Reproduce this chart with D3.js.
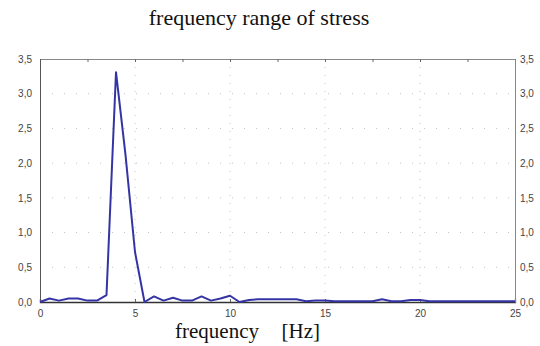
<!DOCTYPE html>
<html>
<head>
<meta charset="utf-8">
<script src="https://cdn.jsdelivr.net/npm/d3@7"></script>
<style>
    body { margin: 0; background: #fff; }
    svg { display: block; }
</style>
</head>
<body>
<div id="chart"></div>
<script>
// chart texts
const titleText = 'frequency range of stress';
const xLabel = 'frequency';
const xUnit = '[Hz]';

// spectrum samples (frequency in Hz, stress amplitude)
const freq = [0, 0.5, 1, 1.5, 2, 2.5, 3, 3.5, 4, 4.5, 5, 5.5, 6, 6.5, 7, 7.5, 8, 8.5, 9, 9.5,
    10, 10.5, 11, 11.5, 12, 12.5, 13, 13.5, 14, 14.5, 15, 15.5, 16, 16.5, 17, 17.5, 18, 18.5, 19, 19.5,
    20, 20.5, 21, 21.5, 22, 22.5, 23, 23.5, 24, 24.5, 25];
const stress = [0.0, 0.05, 0.02, 0.05, 0.05, 0.02, 0.02, 0.1, 3.31, 2.12, 0.72, 0.0, 0.08, 0.02, 0.06, 0.02, 0.02, 0.08, 0.02, 0.05,
    0.09, 0.0, 0.03, 0.04, 0.04, 0.04, 0.04, 0.04, 0.01, 0.02, 0.02, 0.01, 0.01, 0.01, 0.01, 0.01, 0.04, 0.01, 0.01, 0.03,
    0.03, 0.01, 0.01, 0.01, 0.01, 0.01, 0.01, 0.01, 0.01, 0.01, 0.01];

// tick values
const xTicks = [0, 5, 10, 15, 20, 25];
const yTicks = [0, 0.5, 1, 1.5, 2, 2.5, 3, 3.5];

// constants for svg
const W = 540, H = 346;
const margin = { top: 59, right: 25, bottom: 44, left: 40 };
const width = W - margin.left - margin.right;
const height = H - margin.top - margin.bottom;

const data = freq.map(function (f, i) { return { f: f, v: stress[i] }; });

const svg = d3.select('#chart')
    .append('svg')
    .attr('width', W)
    .attr('height', H);

const g = svg.append('g')
    .attr('transform', 'translate(' + margin.left + ',' + margin.top + ')');

// scales
const x = d3.scaleLinear().domain([0, 25]).range([0, width]);
const y = d3.scaleLinear().domain([0, 3.5]).range([height, 0]);

const commaFmt = function (d) { return d3.format('.1f')(d).replace('.', ','); };

// dotted grid
g.append('g')
    .selectAll('line')
    .data(xTicks.slice(1, -1))
    .join('line')
    .attr('x1', d => x(d)).attr('x2', d => x(d))
    .attr('y1', 0).attr('y2', height)
    .attr('stroke', '#c4c4c4')
    .attr('stroke-dasharray', '1,7');

g.append('g')
    .selectAll('line')
    .data(yTicks.slice(1, -1))
    .join('line')
    .attr('x1', 0).attr('x2', width)
    .attr('y1', d => y(d)).attr('y2', d => y(d))
    .attr('stroke', '#c4c4c4')
    .attr('stroke-dasharray', '1,11');

// axes
const tickFont = '10px "Liberation Sans", Arial, sans-serif';

const axB = g.append('g')
    .attr('transform', 'translate(0,' + height + ')')
    .call(d3.axisBottom(x).tickValues(xTicks).tickSize(-3).tickPadding(8).tickFormat(d3.format('d')));
const axT = g.append('g')
    .call(d3.axisTop(x).tickValues(d3.range(0, 25.1, 2.5)).tickSize(-3).tickFormat(''));
const axL = g.append('g')
    .call(d3.axisLeft(y).tickValues(yTicks).tickSize(0).tickPadding(8).tickFormat(commaFmt));
const axR = g.append('g')
    .attr('transform', 'translate(' + width + ',0)')
    .call(d3.axisRight(y).tickValues(yTicks).tickSize(0).tickPadding(5).tickFormat(commaFmt));

[axB, axT, axL, axR].forEach(function (a) {
    a.selectAll('text').style('font', tickFont).attr('fill', '#444');
    a.selectAll('.tick line').attr('stroke', '#666');
});
axB.select('.domain').attr('stroke', '#333').attr('stroke-width', 1.3);
axL.select('.domain').attr('stroke', '#555');
axT.select('.domain').attr('stroke', '#888');
axR.select('.domain').attr('stroke', '#888');

// spectrum line
const line = d3.line()
    .x(d => x(d.f))
    .y(d => y(d.v));

g.append('path')
    .datum(data)
    .attr('fill', 'none')
    .attr('stroke', '#3434a4')
    .attr('stroke-width', 2)
    .attr('stroke-linejoin', 'round')
    .attr('d', line);

// title
svg.append('text')
    .attr('x', 259)
    .attr('y', 25)
    .attr('text-anchor', 'middle')
    .style('font', '22px "Liberation Serif", "Times New Roman", serif')
    .attr('fill', '#111')
    .text(titleText);

// x label
svg.append('text')
    .attr('x', 175)
    .attr('y', 338)
    .style('font', '21px "Liberation Serif", "Times New Roman", serif')
    .attr('fill', '#111')
    .text(xLabel);
svg.append('text')
    .attr('x', 320)
    .attr('y', 338)
    .attr('text-anchor', 'end')
    .style('font', '21px "Liberation Serif", "Times New Roman", serif')
    .attr('fill', '#111')
    .text(xUnit);
</script>
</body>
</html>
